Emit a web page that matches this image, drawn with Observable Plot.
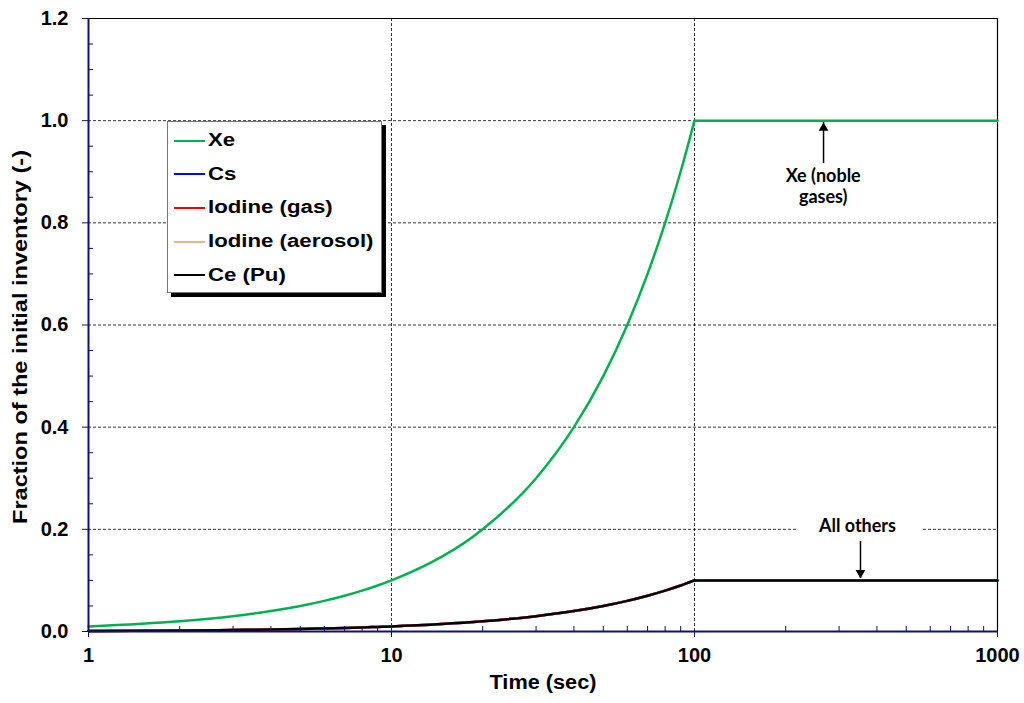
<!DOCTYPE html>
<html>
<head>
<meta charset="utf-8">
<script src="https://cdn.jsdelivr.net/npm/d3@7"></script>
<script src="https://cdn.jsdelivr.net/npm/@observablehq/plot@0.6"></script>
<style>
  html, body { margin: 0; padding: 0; background: #fff; }
  #wrap { position: relative; width: 1024px; height: 703px; font-family: "Liberation Sans", Arial, sans-serif; }
  #legend { position: absolute; left: 167px; top: 121px; width: 215px; height: 172px; background: #fff;
    border: 1px solid #777; box-shadow: 4px 4px 0 #000; box-sizing: border-box; padding-top: 2px; }
  .row { display: flex; align-items: center; height: 33.6px; font-weight: bold; font-size: 17.5px; color: #000; white-space: nowrap; }
  .sw { width: 31px; height: 2px; margin-left: 6px; margin-right: 3px; flex: none; }
  .lt { display: inline-block; transform: scaleX(1.27); transform-origin: left center; }
  svg g[aria-label$="tick label"] text { font-weight: bold; font-family: "Liberation Sans", Arial, sans-serif; }
</style>
</head>
<body>
<div id="wrap"></div>
<script>
// ---- data ----
const times  = [1, 2, 3, 4, 5, 6, 7, 8, 9, 10, 20, 30, 40, 50, 60, 70, 80, 90, 100, 1000];
const xe     = [0.01, 0.02, 0.03, 0.04, 0.05, 0.06, 0.07, 0.08, 0.09, 0.10, 0.20, 0.30, 0.40, 0.50, 0.60, 0.70, 0.80, 0.90, 1.00, 1.00];
const cs     = [0.001, 0.002, 0.003, 0.004, 0.005, 0.006, 0.007, 0.008, 0.009, 0.010, 0.020, 0.030, 0.040, 0.050, 0.060, 0.070, 0.080, 0.090, 0.100, 0.100];
const iodGas = [0.001, 0.002, 0.003, 0.004, 0.005, 0.006, 0.007, 0.008, 0.009, 0.010, 0.020, 0.030, 0.040, 0.050, 0.060, 0.070, 0.080, 0.090, 0.100, 0.100];
const iodAer = [0.001, 0.002, 0.003, 0.004, 0.005, 0.006, 0.007, 0.008, 0.009, 0.010, 0.020, 0.030, 0.040, 0.050, 0.060, 0.070, 0.080, 0.090, 0.100, 0.100];
const cePu   = [0.001, 0.002, 0.003, 0.004, 0.005, 0.006, 0.007, 0.008, 0.009, 0.010, 0.020, 0.030, 0.040, 0.050, 0.060, 0.070, 0.080, 0.090, 0.100, 0.100];
const seriesNames  = ["Xe", "Cs", "Iodine (gas)", "Iodine (aerosol)", "Ce (Pu)"];
const seriesColors = ["#00b050", "#0000ff", "#ff0000", "#f4b183", "#000000"];
const xTicks = [1, 10, 100, 1000];
const xMinor = [2,3,4,5,6,7,8,9,20,30,40,50,60,70,80,90,200,300,400,500,600,700,800,900];
const yTicks = [0, 0.2, 0.4, 0.6, 0.8, 1.0, 1.2];
const yMinor = [0.05,0.1,0.15,0.25,0.3,0.35,0.45,0.5,0.55,0.65,0.7,0.75,0.85,0.9,0.95,1.05,1.1,1.15];
const annoLabels = ["Xe (noble\ngases)", "All others"];
const annoX      = [266, 345];
const annoY      = [0.873, 0.2075];
const arrowX     = [266.6, 353];
const arrowFrom  = [0.916, 0.176];
const arrowTip   = [0.9965, 0.1038];
const arrowDir   = [0, 180];

const allSeries = [xe, cs, iodGas, iodAer, cePu];
const rows = [];
allSeries.forEach((vals, i) => vals.forEach((v, j) => {
  const t = times[j];
  if (t <= 100) rows.push({t, v, s: seriesNames[i], seg: seriesNames[i] + "-rise"});
  if (t >= 100) rows.push({t, v, s: seriesNames[i], seg: seriesNames[i] + "-flat"});
}));
const drawOrder = ["Cs", "Iodine (gas)", "Iodine (aerosol)", "Ce (Pu)", "Xe"];

const annotations = annoLabels.map((label, i) => ({label, x: annoX[i], y: annoY[i]}));
const arrows = arrowX.map((x, i) => ({x, from: arrowFrom[i], tip: arrowTip[i], rot: arrowDir[i]}));

const axisColor = "#12126a";
const font = "Liberation Sans, Arial, sans-serif";

const chart = Plot.plot({
  width: 1024,
  height: 703,
  marginLeft: 88,
  marginRight: 27,
  marginTop: 18,
  marginBottom: 72,
  style: {fontFamily: font, background: "#fff", overflow: "visible"},
  x: {type: "log", domain: [1, 1000]},
  y: {domain: [0, 1.2]},
  color: {domain: seriesNames, range: seriesColors},
  marks: [
    // gridlines
    Plot.ruleY(yTicks.filter(d => d > 0 && d < 1.2), {stroke: "#000", strokeWidth: 0.8, strokeDasharray: "3,2"}),
    Plot.ruleX(xTicks.filter(d => d > 1 && d < 1000), {stroke: "#000", strokeWidth: 0.8, strokeDasharray: "3,2"}),
    // white background behind "All others"
    Plot.rect([0], {x1: 219, x2: 570, y1: 0.19, y2: 0.226, fill: "#fff"}),
    // frame top/right
    Plot.ruleY([1.2], {stroke: "#000", strokeWidth: 1.2}),
    Plot.ruleX([1000], {stroke: "#000", strokeWidth: 1.2}),
    // series
    ...drawOrder.map(name => Plot.line(rows.filter(r => r.s === name), {x: "t", y: "v", z: "seg", stroke: "s", strokeWidth: 2.5, curve: "monotone-x"})),
    // axes
    Plot.axisX({ticks: xMinor, tickSize: -5, tickFormat: () => "", stroke: axisColor}),
    Plot.axisX({ticks: xTicks, tickSize: 6, tickPadding: 10, tickFormat: d => String(d), stroke: axisColor,
      fill: "#000", fontSize: 20, fontWeight: "bold", label: null}),
    Plot.axisY({ticks: yMinor, tickSize: -5, tickFormat: () => "", stroke: axisColor}),
    Plot.axisY({ticks: yTicks, tickSize: 6, tickPadding: 14, tickFormat: d => d.toFixed(1), stroke: axisColor,
      fill: "#000", fontSize: 20, fontWeight: "bold", label: null}),
    Plot.ruleY([0], {stroke: axisColor, strokeWidth: 2}),
    Plot.ruleX([1], {stroke: axisColor, strokeWidth: 2}),
    // axis titles
    Plot.text(["Time (sec)"], {frameAnchor: "bottom", dy: 57, fontSize: 20, fontWeight: "bold", fill: "#000"}),
    Plot.text(["Fraction of the initial inventory (-)"], {frameAnchor: "left", textAnchor: "middle", dx: -68, dy: 12, rotate: -90, fontSize: 19.5, fontWeight: "bold", fill: "#000"}),
    // annotation arrows
    Plot.ruleX(arrows, {x: "x", y1: "from", y2: "tip", stroke: "#000", strokeWidth: 1.5}),
    Plot.dot(arrows.filter(a => a.rot === 0), {x: "x", y: "tip", symbol: "triangle", r: 3.6, fill: "#000", dy: 5.6}),
    Plot.dot(arrows.filter(a => a.rot === 180), {x: "x", y: "tip", symbol: "triangle", r: 3.6, fill: "#000", rotate: 180, dy: -5.6}),
    Plot.text(annotations, {x: "x", y: "y", text: "label", fontSize: 18, fontWeight: "bold", fontFamily: "Lato, Open Sans, sans-serif", fill: "#000", lineHeight: 1.2})
  ]
});

// stretch axis titles to the reference text widths; make tick labels bold
d3.select(chart).selectAll("text").each(function() {
  if (this.textContent === "Fraction of the initial inventory (-)") {
    this.setAttribute("textLength", 374); this.setAttribute("lengthAdjust", "spacingAndGlyphs");
  }
  if (this.textContent === "Time (sec)") {
    this.setAttribute("textLength", 107); this.setAttribute("lengthAdjust", "spacingAndGlyphs");
  }
});
d3.select(chart).selectAll('g[aria-label$="tick label"]').attr("font-weight", "bold").style("font-weight", "bold");

const wrap = document.getElementById("wrap");
wrap.appendChild(chart);

// legend
const legend = document.createElement("div");
legend.id = "legend";
seriesNames.forEach((n, i) => {
  const r = document.createElement("div");
  r.className = "row";
  const sw = document.createElement("div");
  sw.className = "sw";
  sw.style.background = seriesColors[i];
  const t = document.createElement("span");
  t.className = "lt";
  t.textContent = n;
  r.appendChild(sw); r.appendChild(t);
  legend.appendChild(r);
});
wrap.appendChild(legend);
</script>
</body>
</html>
